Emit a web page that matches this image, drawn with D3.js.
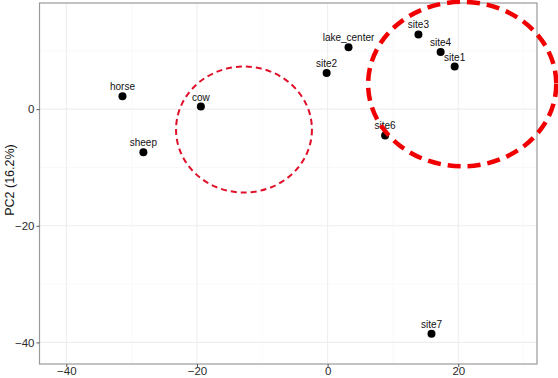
<!DOCTYPE html>
<html><head><meta charset="utf-8">
<script src="https://cdn.jsdelivr.net/npm/d3@7"></script>
<style>body{margin:0;background:#fff}svg{display:block}</style>
</head><body>
<svg id="c" width="558" height="378"></svg>
<script>
const samples = ["horse","sheep","cow","lake_center","site2","site3","site4","site1","site6","site7"];
const pc1 = [-31.4,-28.2,-19.4,3.2,-0.15,13.9,17.3,19.45,8.8,15.9];
const pc2 = [2.2,-7.4,0.45,10.6,6.2,12.8,9.8,7.3,-4.5,-38.5];
const xTicks = [-40,-20,0,20];
const yTicks = [-40,-20,0];
const xMinor = [-30,-10,10,30];
const yMinor = [-30,-10,10];
const yTitle = "PC2 (16.2%)";
// ellipses: cx, cy, rx, ry (data units)
const ellCx = [-12.8, 20.6];
const ellCy = [-3.5, 4.3];
const ellRx = [10.4, 14.4];
const ellRy = [10.8, 14.1];

const svg = d3.select("#c");
const L=39.5, R=537, T=3, B=364;
const x = d3.scaleLinear().domain([-44.1,32.05]).range([L,R]);
const y = d3.scaleLinear().domain([-43.7,18.2]).range([B,T]);

const g = svg.append("g");
// grid
g.selectAll(".gxm").data(xMinor).join("line").attr("x1",d=>x(d)).attr("x2",d=>x(d)).attr("y1",T).attr("y2",B).attr("stroke","#f5f5f5").attr("stroke-width",0.6);
g.selectAll(".gym").data(yMinor).join("line").attr("y1",d=>y(d)).attr("y2",d=>y(d)).attr("x1",L).attr("x2",R).attr("stroke","#f5f5f5").attr("stroke-width",0.6);
g.selectAll(".gx").data(xTicks).join("line").attr("x1",d=>x(d)).attr("x2",d=>x(d)).attr("y1",T).attr("y2",B).attr("stroke","#eeeeee").attr("stroke-width",1.1);
g.selectAll(".gy").data(yTicks).join("line").attr("y1",d=>y(d)).attr("y2",d=>y(d)).attr("x1",L).attr("x2",R).attr("stroke","#eeeeee").attr("stroke-width",1.1);

// border
svg.append("rect").attr("x",L).attr("y",T).attr("width",R-L).attr("height",B-T).attr("fill","none").attr("stroke","#9a9a9a").attr("stroke-width",1.2);

// axes
const xa = svg.append("g").attr("transform",`translate(0,${B})`).call(d3.axisBottom(x).tickValues(xTicks).tickSize(3).tickPadding(1).tickFormat(d=>d<0?"\u2212"+Math.abs(d):d));
const ya = svg.append("g").attr("transform",`translate(${L},0)`).call(d3.axisLeft(y).tickValues(yTicks).tickSize(3).tickPadding(2).tickFormat(d=>d<0?"\u2212"+Math.abs(d):d));
[xa,ya].forEach(a=>{a.select(".domain").remove();a.selectAll("line").attr("stroke","#555");a.selectAll("text").attr("fill","#2b2b2b").style("font-family","Liberation Sans, Arial, sans-serif").style("font-size","11.5px");});
xa.selectAll("text").attr("dy","0.62em");

svg.append("text").attr("transform",`translate(13.5,180) rotate(-90)`).attr("text-anchor","middle").style("font-family","Liberation Sans, Arial, sans-serif").style("font-size","12.5px").attr("fill","#111").text(yTitle);

// points
svg.selectAll(".pt").data(samples).join("circle").attr("cx",(d,i)=>x(pc1[i])).attr("cy",(d,i)=>y(pc2[i])).attr("r",4).attr("fill","#000");
svg.selectAll(".lb").data(samples).join("text").attr("x",(d,i)=>x(pc1[i])).attr("y",(d,i)=>y(pc2[i])-6).attr("text-anchor","middle").style("font-family","Liberation Sans, Arial, sans-serif").style("font-size","10px").attr("fill","#111").text(d=>d);

// ellipses
svg.append("ellipse").attr("cx",x(ellCx[0])).attr("cy",y(ellCy[0])).attr("rx",x(ellRx[0])-x(0)).attr("ry",y(0)-y(ellRy[0])).attr("fill","none").attr("stroke","#e0102a").attr("stroke-width",2).attr("stroke-dasharray","6,4");
svg.append("ellipse").attr("cx",x(ellCx[1])).attr("cy",y(ellCy[1])).attr("rx",x(ellRx[1])-x(0)).attr("ry",y(0)-y(ellRy[1])).attr("fill","none").attr("stroke","#f00000").attr("stroke-width",4.5).attr("stroke-dasharray","13,7");
</script>
</body></html>
